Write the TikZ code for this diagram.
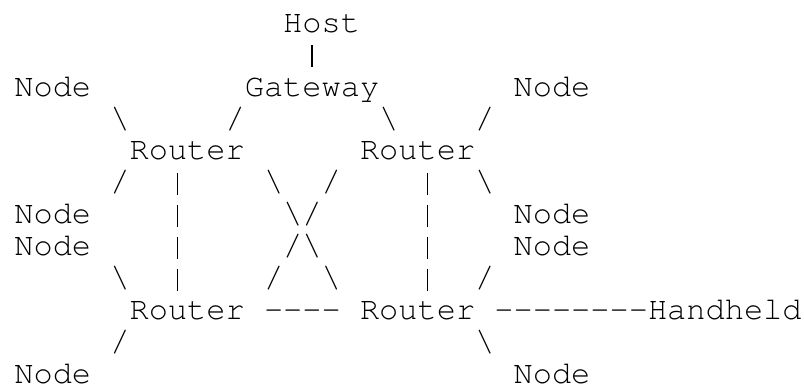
\documentclass[tikz,border=0pt]{standalone}
\usepackage[T1]{fontenc}
\begin{document}
\begin{tikzpicture}[x=1pt,y=1pt,
  cell/.style={anchor=base west,inner sep=0pt,outer sep=0pt,
    font=\fontfamily{pcr}\fontseries{m}\fontshape{n}\fontsize{32}{32}\selectfont,text=black}]
\newcommand\vbarglyph{\makebox[19.2pt]{\rule[-3pt]{1.4pt}{22pt}}}
\useasboundingbox (0,0) rectangle (804,388);
% x = 14.4 + 19.2*col ; y = 355.8 - 31.95*row
% row 0
\node[cell] (host) at ({14.4+19.2*14},{355.8-31.95*0}) {Host};
% row 1
\node[cell] (v1) at ({14.4+19.2*15},{355.8-31.95*1}) {\vbarglyph};
% row 2
\node[cell] (nodeA) at ({14.4+19.2*0},{355.8-31.95*2}) {Node};
\node[cell] (gw) at ({14.4+19.2*12},{355.8-31.95*2}) {Gateway};
\node[cell] (nodeB) at ({14.4+19.2*26},{355.8-31.95*2}) {Node};
% row 3
\node[cell] (b3a) at ({14.4+19.2*5},{355.8-31.95*3}) {\textbackslash};
\node[cell] (s3a) at ({14.4+19.2*11},{355.8-31.95*3}) {/};
\node[cell] (b3b) at ({14.4+19.2*19},{355.8-31.95*3}) {\textbackslash};
\node[cell] (s3b) at ({14.4+19.2*24},{355.8-31.95*3}) {/};
% row 4
\node[cell] (r1) at ({14.4+19.2*6},{355.8-31.95*4}) {Router};
\node[cell] (r2) at ({14.4+19.2*18},{355.8-31.95*4}) {Router};
% row 5
\node[cell] (s5a) at ({14.4+19.2*5},{355.8-31.95*5}) {/};
\node[cell] (v5a) at ({14.4+19.2*8},{355.8-31.95*5}) {\vbarglyph};
\node[cell] (b5a) at ({14.4+19.2*13},{355.8-31.95*5}) {\textbackslash};
\node[cell] (s5b) at ({14.4+19.2*16},{355.8-31.95*5}) {/};
\node[cell] (v5b) at ({14.4+19.2*21},{355.8-31.95*5}) {\vbarglyph};
\node[cell] (b5b) at ({14.4+19.2*24},{355.8-31.95*5}) {\textbackslash};
% row 6
\node[cell] (nodeC) at ({14.4+19.2*0},{355.8-31.95*6}) {Node};
\node[cell] (v6a) at ({14.4+19.2*8},{355.8-31.95*6}) {\vbarglyph};
\node[cell] (x6) at ({14.4+19.2*14},{355.8-31.95*6}) {\textbackslash/};
\node[cell] (v6b) at ({14.4+19.2*21},{355.8-31.95*6}) {\vbarglyph};
\node[cell] (nodeD) at ({14.4+19.2*26},{355.8-31.95*6}) {Node};
% row 7
\node[cell] (nodeE) at ({14.4+19.2*0},{355.8-31.95*7}) {Node};
\node[cell] (v7a) at ({14.4+19.2*8},{355.8-31.95*7}) {\vbarglyph};
\node[cell] (x7) at ({14.4+19.2*14},{355.8-31.95*7}) {/\textbackslash};
\node[cell] (v7b) at ({14.4+19.2*21},{355.8-31.95*7}) {\vbarglyph};
\node[cell] (nodeF) at ({14.4+19.2*26},{355.8-31.95*7}) {Node};
% row 8
\node[cell] (b8a) at ({14.4+19.2*5},{355.8-31.95*8}) {\textbackslash};
\node[cell] (v8a) at ({14.4+19.2*8},{355.8-31.95*8}) {\vbarglyph};
\node[cell] (s8a) at ({14.4+19.2*13},{355.8-31.95*8}) {/};
\node[cell] (b8b) at ({14.4+19.2*16},{355.8-31.95*8}) {\textbackslash};
\node[cell] (v8b) at ({14.4+19.2*21},{355.8-31.95*8}) {\vbarglyph};
\node[cell] (s8b) at ({14.4+19.2*24},{355.8-31.95*8}) {/};
% row 9
\node[cell] (r3) at ({14.4+19.2*6},{355.8-31.95*9}) {Router};
\node[cell] (d9a) at ({14.4+19.2*13},{355.8-31.95*9}) {-{}-{}-{}-};
\node[cell] (r4) at ({14.4+19.2*18},{355.8-31.95*9}) {Router};
\node[cell] (d9b) at ({14.4+19.2*25},{355.8-31.95*9}) {-{}-{}-{}-{}-{}-{}-{}-};
\node[cell] (hh) at ({14.4+19.2*33},{355.8-31.95*9}) {Handheld};
% row 10
\node[cell] (s10) at ({14.4+19.2*5},{355.8-31.95*10}) {/};
\node[cell] (b10) at ({14.4+19.2*24},{355.8-31.95*10}) {\textbackslash};
% row 11
\node[cell] (nodeG) at ({14.4+19.2*0},{355.8-31.95*11}) {Node};
\node[cell] (nodeH) at ({14.4+19.2*26},{355.8-31.95*11}) {Node};
\end{tikzpicture}
\end{document}
